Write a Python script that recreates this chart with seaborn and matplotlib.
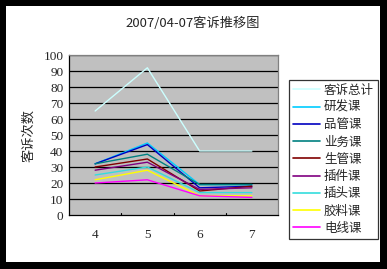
import matplotlib
matplotlib.use("Agg")
import matplotlib.pyplot as plt
import seaborn as sns
import pandas as pd
from matplotlib.patches import Rectangle
from matplotlib.lines import Line2D

months = [4, 5, 6, 7]
series_names = ["客诉总计", "研发课", "品管课", "业务课", "生管课", "插件课", "插头课", "胶料课", "电线课"]
total = [65, 92, 40, 40]
rd = [32, 45, 19, 19]
qc = [32, 44, 17, 18]
sales = [32, 38, 19, 19]
prod_ctrl = [30, 35, 15, 18]
plugin = [28, 33, 16, 17]
plug_head = [25, 30, 14, 14]
glue = [22, 28, 12, 12]
wire = [20, 22, 12, 11]
values = [total, rd, qc, sales, prod_ctrl, plugin, plug_head, glue, wire]
colors = ["#CCFFFF", "#00CCFF", "#0000C0", "#008080", "#800000", "#800080", "#33DDDD", "#FFFF00", "#FF00FF"]
yticks = [0, 10, 20, 30, 40, 50, 60, 70, 80, 90, 100]

rows = []
for name, vals in zip(series_names, values):
    for m, v in zip(months, vals):
        rows.append({"month": m, "value": v, "series": name})
df = pd.DataFrame(rows)

sns.set_style("white")
plt.rcParams['font.family'] = ['Noto Sans CJK SC', 'DejaVu Sans']

W, H = 387, 269
fig = plt.figure(figsize=(W / 100, H / 100), dpi=100)
fig.patch.set_facecolor("black")
fig.patches.append(Rectangle((6 / W, 1 - 262 / H), (380 - 6) / W, (262 - 6) / H,
                             transform=fig.transFigure, facecolor="white", edgecolor="none", zorder=-10))

ax = fig.add_axes([69 / W, 1 - 215 / H, (278 - 69) / W, (215 - 55) / H])
ax.set_facecolor("#C0C0C0")
for y in yticks[1:]:
    ax.axhline(y, color="black", lw=0.9, zorder=1)

palette = dict(zip(series_names, colors))
sns.lineplot(data=df, x="month", y="value", hue="series", hue_order=series_names,
             palette=palette, lw=1.0, ax=ax, legend=False, zorder=3)

ax.set_xlim(3.5, 7.5)
ax.set_ylim(0, 100)
ax.set_yticks(yticks)
ax.set_yticklabels([str(t) for t in yticks], family="Liberation Serif", fontsize=9.5)
ax.set_xticks(months)
ax.set_xticklabels([str(m) for m in months], family="Liberation Serif", fontsize=9.5)
ax.tick_params(axis="x", length=0, pad=10)
ax.tick_params(axis="y", length=0, pad=4)
for b in [4.5, 5.5, 6.5]:
    ax.plot([b, b], [0, 1.3], color="black", lw=0.8, zorder=4, clip_on=False)
ax.set_xlabel("")
ax.set_ylabel("客诉次数", fontsize=9.5, labelpad=6)
for side in ["left", "bottom"]:
    ax.spines[side].set_color("black")
    ax.spines[side].set_linewidth(0.9)
for side in ["top", "right"]:
    ax.spines[side].set_color("#808080")
    ax.spines[side].set_linewidth(0.9)

fig.text(193 / W, 1 - 23 / H, "2007/04-07客诉推移图", ha="center", va="center", fontsize=9.5)

handles = [Line2D([0], [0], color=c, lw=1.2) for c in colors]
leg = fig.legend(handles, series_names, loc="upper left", bbox_to_anchor=(289 / W, 1 - 80 / H),
                 frameon=True, fancybox=False, fontsize=9, handlelength=2.2, handletextpad=0.3,
                 labelspacing=0.34, borderpad=0.3, borderaxespad=0)
leg.get_frame().set_edgecolor("black")
leg.get_frame().set_linewidth(0.9)

fig.savefig("out.png", dpi=100, facecolor=fig.get_facecolor())
